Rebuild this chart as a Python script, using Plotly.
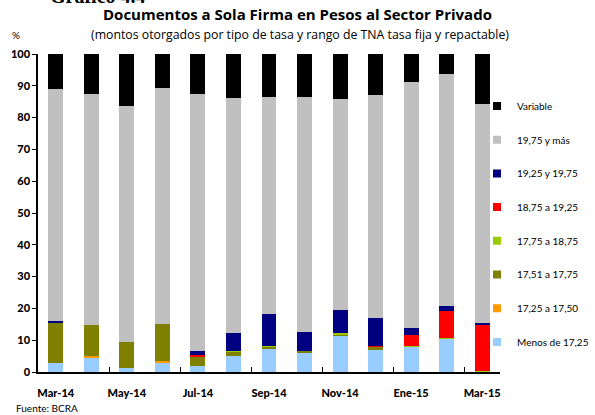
import plotly.graph_objects as go

months = ["Mar-14", "Abr-14", "May-14", "Jun-14", "Jul-14", "Ago-14", "Sep-14",
          "Oct-14", "Nov-14", "Dic-14", "Ene-15", "Feb-15", "Mar-15"]
tick_labels = ["Mar-14", "May-14", "Jul-14", "Sep-14", "Nov-14", "Ene-15", "Mar-15"]

menos_1725 = [2.75, 4.6, 1.3, 3.0, 1.9, 4.95, 7.3, 6.2, 11.6, 6.8, 8.0, 10.4, 0.0]
r1725_1750 = [0.0, 0.35, 0.0, 0.4, 0.0, 0.0, 0.0, 0.0, 0.0, 0.0, 0.0, 0.0, 0.0]
r1751_1775 = [12.95, 9.75, 8.1, 11.6, 3.1, 1.35, 0.6, 0.3, 0.3, 1.1, 0.0, 0.0, 0.0]
r1775_1875 = [0.0, 0.0, 0.0, 0.0, 0.0, 0.3, 0.3, 0.0, 0.3, 0.0, 0.2, 0.3, 0.4]
r1875_1925 = [0.0, 0.0, 0.0, 0.0, 0.3, 0.0, 0.0, 0.0, 0.0, 0.3, 3.4, 8.4, 14.6]
r1925_1975 = [0.4, 0.0, 0.0, 0.0, 1.3, 5.6, 10.0, 6.0, 7.3, 8.7, 2.2, 1.6, 0.3]
r1975_mas = [72.8, 72.6, 74.2, 74.2, 80.7, 74.1, 68.4, 74.1, 66.2, 70.1, 77.3, 72.9, 69.1]
variable = [11.1, 12.7, 16.4, 10.8, 12.7, 13.6, 13.4, 13.4, 14.3, 13.0, 8.9, 6.4, 15.6]

series = [
    ("Menos de 17,25", menos_1725, "#99CCFF"),
    ("17,25 a 17,50", r1725_1750, "#FF9900"),
    ("17,51 a 17,75", r1751_1775, "#808000"),
    ("17,75 a 18,75", r1775_1875, "#99CC00"),
    ("18,75 a 19,25", r1875_1925, "#FF0000"),
    ("19,25 y 19,75", r1925_1975, "#000080"),
    ("19,75 y más", r1975_mas, "#C0C0C0"),
    ("Variable", variable, "#000000"),
]

FONT = "Lato"
fig = go.Figure()
for name, vals, col in series:
    fig.add_trace(go.Bar(x=months, y=vals, name=name, showlegend=False,
                         marker=dict(color=col, line=dict(width=0))))

# legend entries (top to bottom: Variable ... Menos de 17,25) with small square swatches
for i, (name, vals, col) in enumerate(reversed(series)):
    fig.add_trace(go.Scatter(x=[None], y=[None], mode="markers", name=name,
                             marker=dict(symbol="square", size=8, color=col, line=dict(width=0)),
                             legendgroup=f"g{i}", showlegend=True))

# invisible trace carrying secondary axis with boundary tick marks
fig.add_trace(go.Scatter(x=[0, 12], y=[0, 0], xaxis="x2", mode="markers",
                         marker=dict(opacity=0), showlegend=False, hoverinfo="skip"))

fig.update_layout(
    width=595, height=415,
    margin=dict(l=38, r=95, t=54, b=43, autoexpand=False),
    paper_bgcolor="white", plot_bgcolor="white",
    barmode="stack", bargap=0.58,
    font=dict(family=FONT, color="black"),
    showlegend=True,
    legend=dict(x=(493 - 16 - 38) / 462, xanchor="left", y=0.882, yanchor="top",
                traceorder="grouped", tracegroupgap=14.7,
                font=dict(size=10, family=FONT), itemwidth=30,
                bgcolor="rgba(0,0,0,0)"),
    xaxis=dict(type="category", range=[-0.5, 12.5], tickvals=tick_labels, ticktext=tick_labels,
               ticks="", showline=True, linecolor="black", linewidth=2, ticklabelstandoff=10,
               tickfont=dict(size=11, family=FONT + " Black"), showgrid=False, zeroline=False),
    xaxis2=dict(overlaying="x", range=[-0.5, 12.5], side="bottom", anchor="y",
                tickvals=[1.5, 3.5, 5.5, 7.5, 9.5, 11.5], ticks="inside", ticklen=5,
                tickcolor="black", tickwidth=1, showticklabels=False, showgrid=False,
                zeroline=False, showline=False),
    yaxis=dict(range=[0, 100], dtick=10, ticks="outside", ticklen=4, tickcolor="black",
               showline=True, linecolor="black", linewidth=1.5, showgrid=False, zeroline=False,
               tickfont=dict(size=11, family=FONT + " Black")),
)

fig.add_annotation(text="<b>Documentos a Sola Firma en Pesos al Sector Privado</b>",
                   xref="paper", yref="paper", x=(297 - 38) / 462, y=1 + (54 - 14) / 318,
                   xanchor="center", yanchor="middle", showarrow=False,
                   font=dict(size=15, family="Open Sans"))
fig.add_annotation(text="(montos otorgados por tipo de tasa y rango de TNA tasa fija y repactable)",
                   xref="paper", yref="paper", x=(300 - 38) / 462, y=1 + (54 - 35) / 318,
                   xanchor="center", yanchor="middle", showarrow=False,
                   font=dict(size=12.3, family="Open Sans"))
fig.add_annotation(text="%", xref="paper", yref="paper", x=(16 - 38) / 462, y=1 + (54 - 35) / 318,
                   xanchor="center", yanchor="middle", showarrow=False,
                   font=dict(size=10, family=FONT))
fig.add_annotation(text="<b>Gráfico 4.4</b>", xref="paper", yref="paper",
                   x=(48 - 38) / 462, y=1 + (54 - 9) / 318, xanchor="left", yanchor="bottom",
                   showarrow=False, font=dict(size=20, family="Liberation Serif"))
fig.add_annotation(text="Fuente: BCRA", xref="paper", yref="paper", x=(14 - 38) / 462,
                   y=-(408 - 372) / 318, xanchor="left", yanchor="middle", showarrow=False,
                   font=dict(size=10, family=FONT))

fig.write_html("out.html", config={"displayModeBar": False},
               post_script="document.body.style.margin='0';")
